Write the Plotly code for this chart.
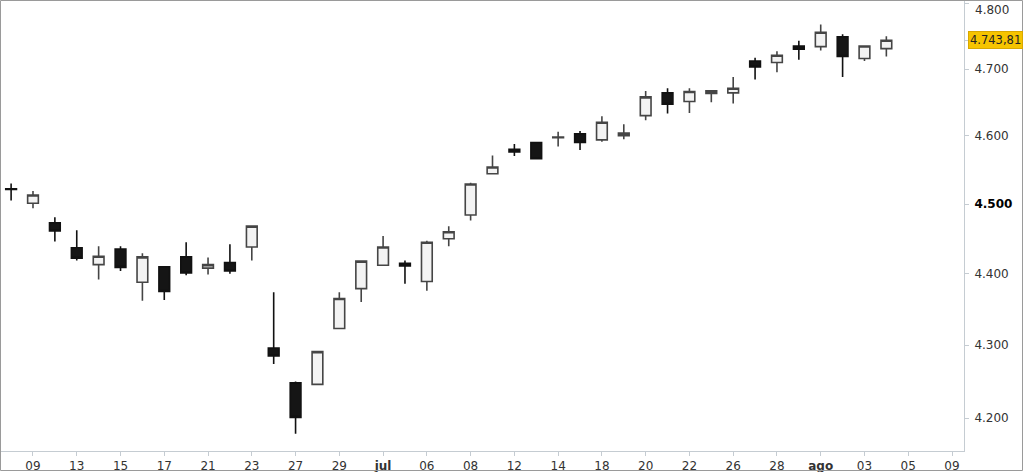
import math
import plotly.graph_objects as go

# Trading sessions (index 0 = first candle), OHLC values
open_ = [4522, 4501, 4473, 4437, 4413, 4435, 4388, 4410, 4424, 4408, 4416, 4438, 4296, 4248,
         4246, 4323, 4379, 4412, 4415, 4389, 4450, 4484, 4544, 4580, 4590, 4597, 4603, 4594,
         4600, 4630, 4664, 4651, 4663, 4664, 4712, 4710, 4735, 4734, 4749, 4716, 4731]
high = [4530, 4519, 4481, 4462, 4439, 4439, 4429, 4411, 4445, 4423, 4442, 4469, 4374, 4250,
        4292, 4374, 4418, 4454, 4419, 4447, 4468, 4531, 4571, 4588, 4591, 4606, 4607, 4629,
        4617, 4667, 4671, 4671, 4668, 4688, 4717, 4727, 4743, 4768, 4753, 4735, 4750]
low = [4505, 4494, 4446, 4419, 4392, 4404, 4362, 4363, 4398, 4399, 4400, 4419, 4274, 4179,
       4245, 4322, 4360, 4411, 4386, 4376, 4439, 4476, 4543, 4570, 4565, 4584, 4579, 4591,
       4595, 4623, 4633, 4634, 4650, 4648, 4684, 4695, 4714, 4728, 4688, 4712, 4719]
close = [4521, 4513, 4461, 4422, 4425, 4409, 4424, 4375, 4401, 4413, 4404, 4468, 4285, 4201,
         4291, 4365, 4418, 4438, 4411, 4445, 4460, 4529, 4554, 4576, 4566, 4598, 4590, 4620,
         4604, 4658, 4647, 4666, 4667, 4671, 4703, 4721, 4730, 4756, 4719, 4735, 4743.81]

# x-axis labels (every second session, continuing past the last candle)
x_tick_sessions = [1, 3, 5, 7, 9, 11, 13, 15, 17, 19, 21, 23, 25, 27, 29, 31, 33, 35, 37, 39, 41, 43]
x_tick_labels = ["09", "13", "15", "17", "21", "23", "27", "29", "<b>jul</b>", "06", "08", "12",
                 "14", "18", "20", "22", "26", "28", "<b>ago</b>", "03", "05", "09"]

# y-axis labels
y_tick_values = [4200, 4300, 4400, 4500, 4600, 4700, 4800]
y_tick_labels = ["4.200", "4.300", "4.400", "<b><span style='color:#000'>4.500</span></b>",
                 "4.600", "4.700", ""]
last_label = "4.743,81"

sessions = list(range(len(close)))

fig = go.Figure()
fig.add_trace(go.Candlestick(
    x=sessions, open=open_, high=high, low=low, close=close,
    increasing=dict(fillcolor="#f3f3f3", line=dict(color="#454545", width=1.6)),
    decreasing=dict(fillcolor="#151515", line=dict(color="#111111", width=1.6)),
    whiskerwidth=0, showlegend=False, hoverinfo="skip",
))

AX = "#c5ccd2"
TXT = "#333333"
FONT = "DejaVu Sans"

fig.update_layout(
    width=1024, height=472,
    margin=dict(l=1, r=60, t=0, b=21),
    paper_bgcolor="white", plot_bgcolor="white",
    font=dict(family=FONT, size=12, color=TXT),
    xaxis=dict(
        type="linear", range=[-0.462, 43.548], rangeslider=dict(visible=False),
        tickmode="array", tickvals=x_tick_sessions, ticktext=x_tick_labels,
        showgrid=False, zeroline=False, showline=True, linecolor=AX, linewidth=1,
        ticks="outside", ticklen=4, tickcolor=AX, tickfont=dict(size=12, color=TXT),
    ),
    yaxis=dict(
        type="log", side="right",
        range=[math.log10(4155.8), math.log10(4805.7)],
        tickmode="array", tickvals=y_tick_values + [close[-1]],
        ticktext=y_tick_labels + [""],
        showgrid=False, zeroline=False, showline=True, linecolor=AX, linewidth=1,
        ticks="outside", ticklen=4, tickcolor=AX, tickfont=dict(size=12, color=TXT),
        ticklabelstandoff=3,
    ),
)

# top label shifted into view, as in the original
fig.add_annotation(xref="paper", yref="paper", x=1, y=(451 - 9.5) / 451,
                   xanchor="left", yanchor="middle", xshift=9, showarrow=False,
                   text="4.800", font=dict(family=FONT, size=12, color=TXT))

# last price tag
fig.add_annotation(xref="paper", yref="y", x=1, y=math.log10(close[-1]),
                   xanchor="left", yanchor="middle", xshift=4, showarrow=False,
                   text=last_label, font=dict(family=FONT, size=11.5, color="#222222"),
                   bgcolor="#f6c400", bordercolor="#d9a800", borderwidth=1, borderpad=1)

# outer frame
fig.add_shape(type="rect", xref="paper", yref="paper",
              x0=-0.5 / 963, x1=1021.5 / 963, y0=(451 - 470.5) / 451, y1=(451 - 0.5) / 451,
              line=dict(color="#9a9a9a", width=1), fillcolor="rgba(0,0,0,0)", layer="above")

fig.write_html("out.html")
